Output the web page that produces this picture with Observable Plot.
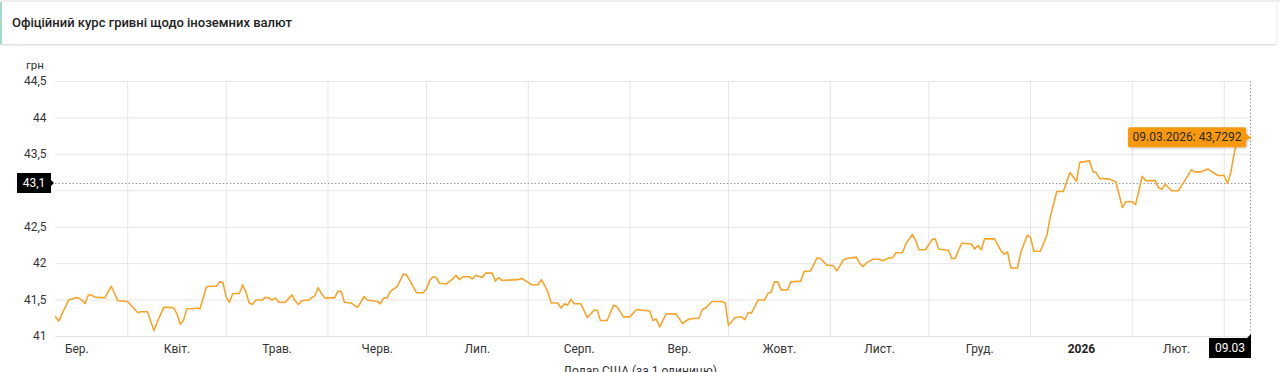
<!DOCTYPE html>
<html><head><meta charset="utf-8">
<script src="https://cdn.jsdelivr.net/npm/d3@7"></script>
<script src="https://cdn.jsdelivr.net/npm/@observablehq/plot@0.6"></script>
<style>
html,body{margin:0;padding:0;background:#fff;}
body{width:1280px;height:372px;overflow:hidden;position:relative;font-family:Roboto,"Noto Sans",sans-serif;}
#topstrip{position:absolute;left:0;top:0;width:1280px;height:2px;background:#efefef;}
#hdr{position:absolute;left:0;top:2px;width:1276px;height:42px;background:#fff;border-left:2px solid #a3dac6;box-shadow:0 1px 2px rgba(0,0,0,0.18);box-sizing:border-box;}
#hdr span{position:absolute;left:10px;top:13px;font-size:13px;font-weight:500;color:#222;}
#chart{position:absolute;left:0;top:46px;}
#caption{position:absolute;left:0;top:364px;width:1280px;text-align:center;font-size:12px;color:#333;}
</style></head>
<body>
<div id="topstrip"></div>
<div id="hdr"><span>Офіційний курс гривні щодо іноземних валют</span></div>
<div id="chart"></div>
<div id="caption">Долар США (за 1 одиницю)</div>
<script>
const dates = [
"2025-03-10","2025-03-11","2025-03-12","2025-03-14","2025-03-16","2025-03-17","2025-03-18","2025-03-19","2025-03-20","2025-03-21","2025-03-22","2025-03-25","2025-03-26","2025-03-27","2025-03-28","2025-03-29",
"2025-04-01","2025-04-02","2025-04-04","2025-04-05","2025-04-07","2025-04-09","2025-04-10","2025-04-12","2025-04-14","2025-04-15","2025-04-16","2025-04-17","2025-04-18","2025-04-19","2025-04-21","2025-04-22","2025-04-23","2025-04-25","2025-04-26","2025-04-28","2025-04-29","2025-04-30",
"2025-05-01","2025-05-02","2025-05-03","2025-05-05","2025-05-06","2025-05-07","2025-05-08","2025-05-09","2025-05-10","2025-05-12","2025-05-13","2025-05-14","2025-05-15","2025-05-16","2025-05-17","2025-05-19","2025-05-20","2025-05-21","2025-05-22","2025-05-23","2025-05-24","2025-05-26","2025-05-28","2025-05-29","2025-05-30","2025-05-31",
"2025-06-03","2025-06-04","2025-06-05","2025-06-06","2025-06-08","2025-06-10","2025-06-11","2025-06-12","2025-06-13","2025-06-16","2025-06-17","2025-06-18","2025-06-19","2025-06-20","2025-06-22","2025-06-23","2025-06-24","2025-06-25","2025-06-27","2025-06-28","2025-06-30",
"2025-07-01","2025-07-02","2025-07-03","2025-07-04","2025-07-05","2025-07-07","2025-07-09","2025-07-10","2025-07-11","2025-07-12","2025-07-14","2025-07-15","2025-07-16","2025-07-18","2025-07-19","2025-07-21","2025-07-22","2025-07-23","2025-07-24","2025-07-29","2025-07-30","2025-07-31",
"2025-08-02","2025-08-04","2025-08-05","2025-08-06","2025-08-07","2025-08-08","2025-08-10","2025-08-11","2025-08-12","2025-08-13","2025-08-14","2025-08-15","2025-08-17","2025-08-19","2025-08-21","2025-08-22","2025-08-23","2025-08-25","2025-08-27","2025-08-28","2025-08-30",
"2025-09-01","2025-09-03","2025-09-05","2025-09-07","2025-09-08","2025-09-09","2025-09-10","2025-09-12","2025-09-15","2025-09-17","2025-09-19","2025-09-22","2025-09-23","2025-09-24","2025-09-26","2025-09-29","2025-09-30",
"2025-10-01","2025-10-03","2025-10-05","2025-10-06","2025-10-07","2025-10-08","2025-10-10","2025-10-12","2025-10-13","2025-10-14","2025-10-15","2025-10-16","2025-10-17","2025-10-19","2025-10-20","2025-10-23","2025-10-24","2025-10-26","2025-10-28","2025-10-29","2025-10-31",
"2025-11-02","2025-11-03","2025-11-05","2025-11-06","2025-11-09","2025-11-10","2025-11-11","2025-11-12","2025-11-14","2025-11-16","2025-11-17","2025-11-19","2025-11-20","2025-11-21","2025-11-23","2025-11-24","2025-11-26","2025-11-27","2025-11-28","2025-11-30",
"2025-12-02","2025-12-03","2025-12-04","2025-12-07","2025-12-08","2025-12-09","2025-12-11","2025-12-14","2025-12-15","2025-12-16","2025-12-17","2025-12-18","2025-12-21","2025-12-23","2025-12-24","2025-12-25","2025-12-26","2025-12-28","2025-12-29","2025-12-31",
"2026-01-01","2026-01-02","2026-01-04","2026-01-06","2026-01-07","2026-01-09","2026-01-11","2026-01-12","2026-01-13","2026-01-15","2026-01-16","2026-01-19","2026-01-20","2026-01-21","2026-01-22","2026-01-25","2026-01-27","2026-01-29","2026-01-30",
"2026-02-01","2026-02-02","2026-02-04","2026-02-05","2026-02-08","2026-02-09","2026-02-10","2026-02-11","2026-02-13","2026-02-15","2026-02-17","2026-02-19","2026-02-20","2026-02-22","2026-02-24","2026-02-27",
"2026-03-01","2026-03-02","2026-03-03","2026-03-04","2026-03-05","2026-03-09"
];
const rates = [
41.27,41.21,41.31,41.50,41.53,41.53,41.50,41.45,41.57,41.57,41.54,41.53,41.61,41.69,41.59,41.49,
41.48,41.43,41.33,41.34,41.34,41.08,41.20,41.40,41.40,41.39,41.31,41.17,41.22,41.38,41.38,41.39,41.38,41.68,41.69,41.69,41.75,41.74,
41.54,41.47,41.59,41.59,41.71,41.61,41.46,41.44,41.50,41.50,41.54,41.53,41.50,41.53,41.47,41.47,41.52,41.57,41.49,41.44,41.49,41.50,41.56,41.67,41.59,41.53,
41.53,41.62,41.62,41.47,41.46,41.40,41.47,41.55,41.50,41.48,41.45,41.53,41.53,41.62,41.68,41.77,41.86,41.84,41.68,41.60,41.60,
41.65,41.77,41.82,41.81,41.73,41.72,41.79,41.84,41.78,41.82,41.82,41.79,41.84,41.81,41.87,41.87,41.76,41.81,41.77,41.78,41.80,41.77,
41.71,41.71,41.78,41.70,41.61,41.46,41.46,41.39,41.45,41.43,41.51,41.45,41.45,41.26,41.36,41.36,41.22,41.22,41.43,41.41,41.27,
41.27,41.37,41.36,41.35,41.22,41.24,41.13,41.31,41.31,41.18,41.24,41.25,41.37,41.39,41.48,41.48,41.46,
41.15,41.26,41.27,41.23,41.33,41.32,41.50,41.50,41.59,41.61,41.75,41.75,41.64,41.64,41.75,41.76,41.89,41.90,42.08,42.07,41.98,
41.97,41.90,42.05,42.07,42.09,42.00,41.96,42.01,42.06,42.06,42.04,42.08,42.08,42.15,42.15,42.27,42.40,42.32,42.19,42.19,
42.33,42.34,42.20,42.18,42.07,42.07,42.28,42.27,42.20,42.25,42.19,42.34,42.34,42.18,42.13,42.16,41.94,41.94,42.15,42.39,
42.36,42.17,42.17,42.39,42.64,42.99,42.99,43.12,43.25,43.13,43.39,43.41,43.26,43.25,43.17,43.16,43.12,42.77,42.85,
42.85,42.81,43.20,43.14,43.14,43.04,43.02,43.09,43.00,43.00,43.14,43.29,43.26,43.26,43.30,43.21,
43.21,43.10,43.25,43.50,43.7292,43.7292
];
const yTicks = [41, 41.5, 42, 42.5, 43, 43.5, 44, 44.5];
const monthStarts = ["2025-04-01","2025-05-01","2025-06-01","2025-07-01","2025-08-01","2025-09-01","2025-10-01","2025-11-01","2025-12-01","2026-01-01","2026-02-01","2026-03-01"];
const labelDates = ["2025-03-16T12:00Z","2025-04-16T00:00Z","2025-05-16T12:00Z","2025-06-16T00:00Z","2025-07-16T12:00Z","2025-08-16T12:00Z","2025-09-16T00:00Z","2025-10-16T12:00Z","2025-11-16T00:00Z","2025-12-16T12:00Z","2026-01-16T12:00Z","2026-02-14T12:00Z"];
const labelTexts = ["Бер.","Квіт.","Трав.","Черв.","Лип.","Серп.","Вер.","Жовт.","Лист.","Груд.","2026","Лют."];
const boldLabel = "2026";
const domainX = ["2025-03-10","2026-03-09"];
const crossValue = 43.1;
const crossValueText = "43,1";
const crossDateText = "09.03";
const tipText = "09.03.2026: 43,7292";
const unitLabel = "грн";

const data = dates.map((d, i) => ({date: new Date(d), rate: rates[i]}));
const lastPoint = data[data.length - 1];
const fmt = v => String(v).replace(".", ",");
const normIdx = labelTexts.map((t, i) => i).filter(i => labelTexts[i] !== boldLabel);
const boldIdx = labelTexts.map((t, i) => i).filter(i => labelTexts[i] === boldLabel);
// tick labels hidden under the crosshair value label
const shownYTicks = yTicks.filter(t => Math.abs(t - crossValue) > 0.2);

const chart = Plot.plot({
  width: 1280, height: 318,
  marginTop: 35, marginBottom: 28, marginLeft: 55, marginRight: 30,
  style: {fontFamily: "Roboto, sans-serif", fontSize: "12px", color: "#333", background: "transparent", overflow: "visible"},
  x: {type: "utc", domain: domainX.map(d => new Date(d)), label: null, axis: null},
  y: {domain: [41, 44.5], label: null, axis: null},
  marks: [
    Plot.ruleY(yTicks, {stroke: "#e6e6e6", strokeWidth: 1}),
    Plot.ruleX(monthStarts.map(d => new Date(d)), {stroke: "#e6e6e6", strokeWidth: 1}),
    Plot.axisY(shownYTicks, {tickSize: 0, tickPadding: 9, tickFormat: fmt, fill: "#333", fontSize: 12, label: null}),
    Plot.axisX(normIdx.map(i => new Date(labelDates[i])), {tickSize: 0, tickPadding: 8, fontSize: 12, fill: "#333", label: null,
      tickFormat: d => labelTexts[labelDates.findIndex(s => +new Date(s) === +d)]}),
    Plot.axisX(boldIdx.map(i => new Date(labelDates[i])), {tickSize: 0, tickPadding: 8, fontSize: 12, fill: "#222", fontWeight: "bold", label: null,
      tickFormat: () => boldLabel}),
    Plot.ruleY([crossValue], {stroke: "#9a9a9a", strokeWidth: 1, strokeDasharray: "1.5,2"}),
    Plot.ruleX([lastPoint.date], {stroke: "#9a9a9a", strokeWidth: 1, strokeDasharray: "1.5,2"}),
    Plot.line(data, {x: "date", y: "rate", stroke: "#f6a52a", strokeWidth: 1.6, curve: "linear"})
  ]
});
document.getElementById("chart").appendChild(chart);

const svg = d3.select(chart);
const sx = chart.scale("x"), sy = chart.scale("y");
const g = svg.append("g").attr("font-family", "Roboto, sans-serif").attr("font-size", 12);

// unit label
g.append("text").attr("x", 35).attr("y", sy.apply(44.5) - 12).attr("text-anchor", "middle").attr("fill", "#333").attr("font-size", 11.5).text(unitLabel);

// crosshair y label
const cy = sy.apply(crossValue);
const left = 55;
g.append("rect").attr("x", left - 38).attr("y", cy - 10).attr("width", 34).attr("height", 20).attr("fill", "#000");
g.append("path").attr("d", `M${left - 4},${cy - 3}L${left - 1},${cy}L${left - 4},${cy + 3}Z`).attr("fill", "#000");
g.append("text").attr("x", left - 21).attr("y", cy).attr("dy", "0.35em").attr("text-anchor", "middle").attr("fill", "#fff").text(crossValueText);

// crosshair x label
const xe = sx.apply(lastPoint.date);
const yb = sy.apply(41);
g.append("rect").attr("x", xe - 41).attr("y", yb + 2).attr("width", 42).attr("height", 20).attr("fill", "#000");
g.append("path").attr("d", `M${xe - 3},${yb + 2}L${xe + 1},${yb - 2}L${xe + 1},${yb + 2}Z`).attr("fill", "#000");
g.append("text").attr("x", xe - 20).attr("y", yb + 12).attr("dy", "0.35em").attr("text-anchor", "middle").attr("fill", "#fff").text(crossDateText);

// tooltip
const ty = sy.apply(lastPoint.rate);
const defs = svg.append("defs");
const f = defs.append("filter").attr("id", "sh").attr("x", "-10%").attr("y", "-30%").attr("width", "130%").attr("height", "180%");
f.append("feDropShadow").attr("dx", 1).attr("dy", 1).attr("stdDeviation", 1).attr("flood-color", "#000").attr("flood-opacity", 0.25);
const tg = g.append("g").attr("filter", "url(#sh)");
tg.append("rect").attr("x", xe - 122).attr("y", ty - 10).attr("width", 118).attr("height", 20).attr("rx", 2).attr("fill", "#f7980f");
tg.append("path").attr("d", `M${xe - 4},${ty - 4}L${xe},${ty}L${xe - 4},${ty + 4}Z`).attr("fill", "#f7980f");
g.append("text").attr("x", xe - 63).attr("y", ty).attr("dy", "0.35em").attr("text-anchor", "middle").attr("fill", "#2a2a2a").attr("font-size", 12).text(tipText);
</script>
</body></html>
